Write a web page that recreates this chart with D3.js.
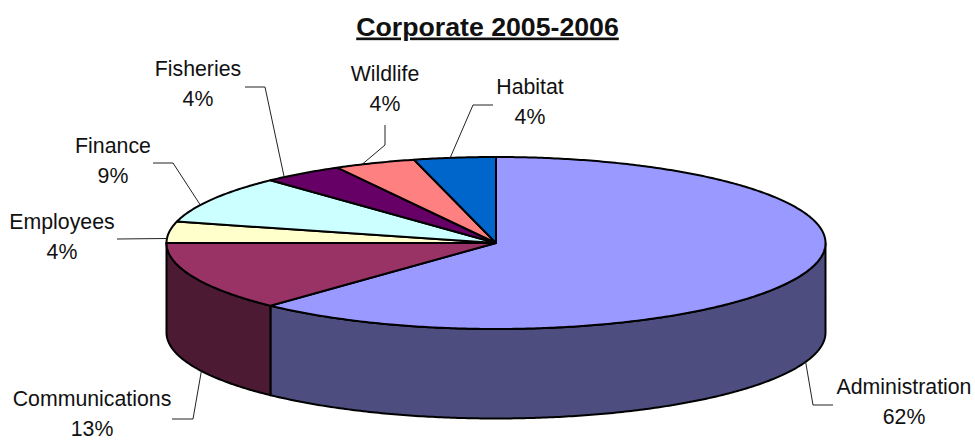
<!DOCTYPE html>
<html>
<head>
<meta charset="utf-8">
<title>Corporate 2005-2006</title>
<script src="https://cdn.jsdelivr.net/npm/d3@7/dist/d3.min.js"></script>
<style>
  html, body { margin: 0; padding: 0; background: #fff; }
  svg { display: block; }
  text { font-family: "Liberation Sans", Arial, sans-serif; fill: #111; }
</style>
</head>
<body>
<svg id="chart" width="975" height="441"></svg>
<script>
// Budget shares by department, in percent, clockwise from twelve o'clock
const categories = ["Administration", "Communications", "Employees", "Finance", "Fisheries", "Wildlife", "Habitat"];
const shares = [62, 13, 4, 9, 4, 4, 4];
const topColors = ["#9999FF", "#993366", "#FFFFCC", "#CCFFFF", "#660066", "#FF8080", "#0066CC"];
const sideColors = ["#4D4D80", "#4D1A33", "#80805A", "#668080", "#330033", "#804040", "#003366"];

// Label placement: label centre, leader elbow and where the leader meets the rim (degrees clockwise)
const labelLayout = {
  Administration: { x: 904, y: 394, from: [833, 405], elbow: [813, 405], rim: 110, front: true },
  Communications: { x: 92, y: 406, from: [172, 419], elbow: [193, 419], rim: 243.4, front: true },
  Employees: { x: 62, y: 229, from: [117, 239], elbow: [117, 239], rim: 273, front: false },
  Finance: { x: 113, y: 153, from: [153, 163], elbow: [173, 163], rim: 296.2, front: false },
  Fisheries: { x: 198, y: 76, from: [245, 87], elbow: [265, 87], rim: 320, front: false },
  Wildlife: { x: 385, y: 81, from: [385, 125], elbow: [385, 145], rim: 336, front: false },
  Habitat: { x: 530, y: 94, from: [493, 105], elbow: [473, 105], rim: 352, front: false }
};

const cx = 496, cy = 243, rx = 329.5, ry = 86, depth = 89.5;
const svg = d3.select("#chart");

const pie = d3.pie().sort(null).value(d => d);
const arcs = pie(shares).map((a, i) => ({ ...a, name: categories[i], i }));

// Projects a clockwise angle on the tilted disc; lift 1 drops it to the lower rim
const project = (angle, lift = 0) => [
  cx + rx * Math.sin(angle),
  cy - ry * Math.cos(angle) + lift * depth
];
const sweep = (a0, a1) => {
  const n = Math.max(2, Math.ceil(Math.abs(a1 - a0) / 0.01));
  return d3.range(n + 1).map(k => a0 + (a1 - a0) * k / n);
};
const line = d3.line();

// Visible wall: only the front half of the disc, pi/2 to 3pi/2
const wallGroup = svg.append("g");
arcs.forEach(a => {
  const a0 = Math.max(a.startAngle, Math.PI / 2);
  const a1 = Math.min(a.endAngle, 3 * Math.PI / 2);
  if (a1 <= a0) return;
  const upper = sweep(a0, a1).map(t => project(t));
  const lower = sweep(a1, a0).map(t => project(t, 1));
  wallGroup.append("path")
    .attr("d", line([...upper, ...lower]) + "Z")
    .attr("fill", sideColors[a.i])
    .attr("stroke", "#000")
    .attr("stroke-width", 2)
    .attr("stroke-linejoin", "round");
});

// Top faces of the slices
svg.append("g").selectAll("path")
  .data(arcs)
  .join("path")
  .attr("d", a => line([[cx, cy], ...sweep(a.startAngle, a.endAngle).map(t => project(t))]) + "Z")
  .attr("fill", a => topColors[a.i])
  .attr("stroke", "#000")
  .attr("stroke-width", 2)
  .attr("stroke-linejoin", "round");

// Leader lines
const deg = Math.PI / 180;
svg.append("g").selectAll("path")
  .data(arcs)
  .join("path")
  .attr("d", a => {
    const l = labelLayout[a.name];
    return line([l.from, l.elbow, project(l.rim * deg, l.front ? 1 : 0)]);
  })
  .attr("fill", "none")
  .attr("stroke", "#222")
  .attr("stroke-width", 1);

// Two-line slice labels
const labels = svg.append("g").selectAll("text")
  .data(arcs)
  .join("text")
  .attr("text-anchor", "middle")
  .attr("font-size", 21.3);
labels.append("tspan")
  .attr("x", a => labelLayout[a.name].x)
  .attr("y", a => labelLayout[a.name].y)
  .text(a => a.name);
labels.append("tspan")
  .attr("x", a => labelLayout[a.name].x)
  .attr("y", a => labelLayout[a.name].y + 30)
  .text(a => `${a.value}%`);

svg.append("text")
  .attr("x", 487.5)
  .attr("y", 35.5)
  .attr("text-anchor", "middle")
  .attr("font-size", 26.7)
  .attr("font-weight", "bold")
  .attr("text-decoration", "underline")
  .text("Corporate 2005-2006");
</script>
</body>
</html>
